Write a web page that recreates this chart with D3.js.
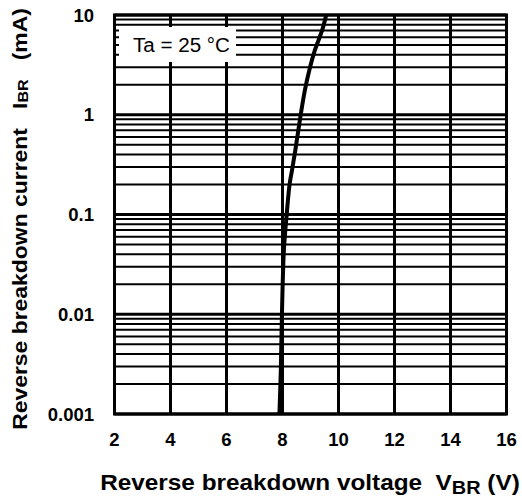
<!DOCTYPE html>
<html>
<head>
<meta charset="utf-8">
<script src="https://cdn.jsdelivr.net/npm/d3@7"></script>
<style>
  html, body { margin: 0; padding: 0; background: #fff; }
  svg { display: block; }
  text { font-family: "Liberation Sans", Arial, sans-serif; fill: #000; }
</style>
</head>
<body>
<svg id="chart" width="522" height="500"></svg>
<script>
// ---- data ----
const voltage = [7.89, 7.94, 7.98, 8.05, 8.15, 8.25, 8.34, 8.46, 8.65, 8.80, 8.96, 9.16, 9.42, 9.56];
const current = [0.001, 0.00275, 0.01, 0.044, 0.1, 0.198, 0.279, 0.444, 1, 1.77, 2.81, 4.46, 7.08, 10];
const xTicks = [2, 4, 6, 8, 10, 12, 14, 16];
const yTicks = [0.001, 0.01, 0.1, 1, 10];
const yTickLabels = ["0.001", "0.01", "0.1", "1", "10"];
const legendText = "Ta = 25 °C";

// ---- layout ----
const svg = d3.select("#chart");
const L = 114.5, R = 506.5, T = 15, B = 414;
const x = d3.scaleLinear().domain([2, 16]).range([L, R]);
const y = d3.scaleLog().domain([0.001, 10]).range([B, T]);

svg.append("rect").attr("width", 522).attr("height", 500).attr("fill", "#fff");

// minor horizontal grid
const minor = y.ticks().filter(v => !yTicks.some(t => Math.abs(t - v) / t < 1e-6));
svg.append("g").selectAll("line").data(minor).join("line")
  .attr("x1", L).attr("x2", R)
  .attr("y1", d => y(d)).attr("y2", d => y(d))
  .attr("stroke", "#000").attr("stroke-width", 2);

// major horizontal grid
svg.append("g").selectAll("line").data(yTicks).join("line")
  .attr("x1", L).attr("x2", R)
  .attr("y1", d => y(d)).attr("y2", d => y(d))
  .attr("stroke", "#000").attr("stroke-width", 3);

// vertical grid
svg.append("g").selectAll("line").data(xTicks).join("line")
  .attr("x1", d => x(d)).attr("x2", d => x(d))
  .attr("y1", T).attr("y2", B)
  .attr("stroke", "#000").attr("stroke-width", 3);

// legend box
svg.append("rect").attr("x", 119).attr("y", 27).attr("width", 117).attr("height", 35).attr("fill", "#fff");
svg.append("text").attr("x", 133).attr("y", 52).attr("font-size", 20)
  .attr("textLength", 97).attr("lengthAdjust", "spacingAndGlyphs").text(legendText);

// curve
const pts = voltage.map((v, i) => [v, current[i]]);
const line = d3.line().x(d => x(d[0])).y(d => y(d[1])).curve(d3.curveCatmullRom);
svg.append("path").attr("d", line(pts)).attr("fill", "none")
  .attr("stroke", "#000").attr("stroke-width", 4);

// border
svg.append("rect").attr("x", L).attr("y", T).attr("width", R - L).attr("height", B - T)
  .attr("fill", "none").attr("stroke", "#000").attr("stroke-width", 3);

// x tick labels
svg.append("g").selectAll("text").data(xTicks).join("text")
  .attr("x", d => x(d)).attr("y", 446)
  .attr("text-anchor", "middle").attr("font-size", 18.5).attr("font-weight", "bold")
  .text(d => d);

// y tick labels
svg.append("g").selectAll("text").data(yTicks).join("text")
  .attr("x", 94).attr("y", d => y(d)).attr("dy", "0.36em")
  .attr("text-anchor", "end").attr("font-size", 18.5).attr("font-weight", "bold")
  .text((d, i) => yTickLabels[i]);

// x title (stretched to reference width)
const xg = svg.append("g");
const xt = xg.append("text").attr("x", 0).attr("y", 0)
  .attr("text-anchor", "middle").attr("font-size", 22).attr("font-weight", "bold");
xt.append("tspan").text("Reverse breakdown voltage\u00a0\u00a0V");
xt.append("tspan").attr("font-size", 18).attr("dy", 3.5).text("BR");
xt.append("tspan").attr("dy", -3.5).text(" (V)");
const xw = xt.node().getBBox().width;
xg.attr("transform", `translate(310,490) scale(${420 / xw},1)`);

// y title
const yg = svg.append("g");
const yt = yg.append("text").attr("x", 0).attr("y", 0)
  .attr("text-anchor", "middle").attr("font-size", 20).attr("font-weight", "bold");
yt.append("tspan").text("Reverse breakdown current\u00a0\u00a0\u00a0I");
yt.append("tspan").attr("font-size", 14).attr("dy", 1).text("BR");
yt.append("tspan").attr("dy", -1).text("\u00a0\u00a0\u00a0(mA)");
const yw = yt.node().getBBox().width;
yg.attr("transform", `translate(27,219) rotate(-90) scale(${422 / yw},1)`);
</script>
</body>
</html>
